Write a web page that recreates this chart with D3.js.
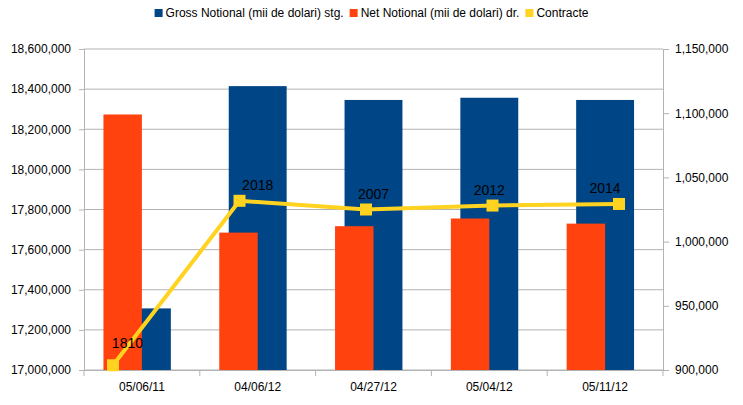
<!DOCTYPE html>
<html>
<head>
<meta charset="utf-8">
<script src="https://cdn.jsdelivr.net/npm/d3@7"></script>
<style>
  body { margin: 0; background: #fff; }
  text { font-family: "Liberation Sans", Arial, sans-serif; fill: #000; }
</style>
</head>
<body>
<div id="chart"></div>
<script>
// chart data
var dates = ["05/06/11", "04/06/12", "04/27/12", "05/04/12", "05/11/12"];
var gross = [17307000, 18415000, 18346000, 18357000, 18346000];
var net = [1099000, 1007000, 1012000, 1018000, 1014000];
var contracte = [1810, 2018, 2007, 2012, 2014];
var leftTicks = [17000000, 17200000, 17400000, 17600000, 17800000, 18000000, 18200000, 18400000, 18600000];
var rightTicks = [900000, 950000, 1000000, 1050000, 1100000, 1150000];
var seriesNames = ["Gross Notional (mii de dolari) stg.", "Net Notional (mii de dolari) dr.", "Contracte"];
var colors = ["#004586", "#ff420e", "#ffd320"];

var svgWidth = 743;
var svgHeight = 405;
var margin = { top: 49, right: 80, bottom: 35, left: 84 };
var chartWidth = svgWidth - margin.left - margin.right;
var chartHeight = svgHeight - margin.top - margin.bottom;

var svg = d3.select("#chart")
  .append("svg")
  .attr("width", svgWidth)
  .attr("height", svgHeight);

var chartGroup = svg.append("g")
  .attr("transform", `translate(${margin.left}, ${margin.top})`);

// scales
var xScale = d3.scaleBand().domain(dates).range([0, chartWidth]);
// the line sits on its own (hidden) x range, a bit shifted from the bands
var xLine = d3.scalePoint().domain(dates).range([29, chartWidth - 44]);
var yLeft = d3.scaleLinear().domain([17000000, 18600000]).range([chartHeight, 0]);
var yRight = d3.scaleLinear().domain([900000, 1150000]).range([chartHeight, 0]);
var yLine = d3.scaleLinear().domain([1804, 2210]).range([chartHeight, 0]);

var fmt = d3.format(",");

// gridlines
chartGroup.selectAll(".grid")
  .data(leftTicks)
  .enter()
  .append("line")
  .attr("x1", 0)
  .attr("x2", chartWidth)
  .attr("y1", d => yLeft(d))
  .attr("y2", d => yLeft(d))
  .attr("stroke", "#b3b3b3")
  .attr("stroke-width", 1);

// left axis
var leftAxis = chartGroup.append("g")
  .call(d3.axisLeft(yLeft).tickValues(leftTicks).tickFormat(fmt).tickSizeOuter(0).tickSize(5).tickPadding(8));

// right axis
var rightAxis = chartGroup.append("g")
  .attr("transform", `translate(${chartWidth}, 0)`)
  .call(d3.axisRight(yRight).tickValues(rightTicks).tickFormat(fmt).tickSizeOuter(0).tickSize(6).tickPadding(6));

// x axis
var xAxis = chartGroup.append("g")
  .attr("transform", `translate(0, ${chartHeight})`)
  .call(d3.axisBottom(xScale).tickSize(0).tickPadding(12));

// x ticks on the category boundaries
chartGroup.selectAll(".xtick")
  .data(d3.range(dates.length + 1))
  .enter()
  .append("line")
  .attr("x1", i => i * xScale.bandwidth())
  .attr("x2", i => i * xScale.bandwidth())
  .attr("y1", chartHeight)
  .attr("y2", chartHeight + 6)
  .attr("stroke", "#b3b3b3");

[leftAxis, rightAxis, xAxis].forEach(function(g) {
  g.selectAll("path, line").attr("stroke", "#b3b3b3");
  g.selectAll("text")
    .style("font-size", "12px")
    .style("font-family", "'Liberation Sans', Arial, sans-serif")
    .attr("fill", "#000");
});

// gross bars (behind)
var bw = xScale.bandwidth();
chartGroup.selectAll(".gross")
  .data(gross)
  .enter()
  .append("rect")
  .attr("x", (d, i) => xScale(dates[i]) + bw * 0.25)
  .attr("width", bw * 0.5)
  .attr("y", d => yLeft(d))
  .attr("height", d => chartHeight - yLeft(d))
  .style("fill", colors[0]);

// net bars (front)
chartGroup.selectAll(".net")
  .data(net)
  .enter()
  .append("rect")
  .attr("x", (d, i) => xScale(dates[i]) + bw * 0.5 - bw * 0.332)
  .attr("width", bw * 0.332)
  .attr("y", d => yRight(d))
  .attr("height", d => chartHeight - yRight(d))
  .style("fill", colors[1]);

// contracte line
var line = d3.line()
  .x((d, i) => xLine(dates[i]))
  .y(d => yLine(d));

chartGroup.append("path")
  .datum(contracte)
  .attr("d", line)
  .attr("fill", "none")
  .attr("stroke", colors[2])
  .attr("stroke-width", 4)
  .attr("stroke-linejoin", "round");

chartGroup.selectAll(".marker")
  .data(contracte)
  .enter()
  .append("rect")
  .attr("x", (d, i) => xLine(dates[i]) - 6)
  .attr("y", d => yLine(d) - 6)
  .attr("width", 12)
  .attr("height", 12)
  .style("fill", colors[2]);

// value labels
chartGroup.selectAll(".vlabel")
  .data(contracte)
  .enter()
  .append("text")
  .text(d => d)
  .attr("x", (d, i) => i === 0 ? (xLine(dates[i]) + xScale(dates[i]) + bw / 2) / 2 : xScale(dates[i]) + bw / 2)
  .attr("y", (d, i) => yLine(d) - (i === 0 ? 17 : 11))
  .attr("text-anchor", "middle")
  .style("font-size", "14px");

// legend
var legend = svg.append("g");
var lx = 0;
seriesNames.forEach(function(name, i) {
  var item = legend.append("g").attr("transform", `translate(${lx}, 0)`);
  item.append("rect")
    .attr("x", 0)
    .attr("y", 9)
    .attr("width", 8)
    .attr("height", 8)
    .style("fill", colors[i]);
  var t = item.append("text")
    .attr("x", 11)
    .attr("y", 17)
    .style("font-size", "12px")
    .text(name);
  lx += 11 + t.node().getComputedTextLength() + 6;
});
var legendWidth = lx - 6;
legend.attr("transform", `translate(${(svgWidth - legendWidth) / 2}, 0)`);
</script>
</body>
</html>
